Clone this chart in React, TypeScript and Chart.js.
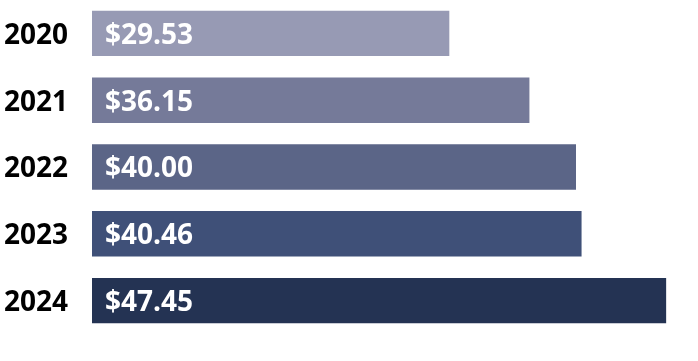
import React, { useEffect, useRef } from "react";
import { Chart, registerables } from "chart.js";

Chart.register(...registerables);

const years = ["2020", "2021", "2022", "2023", "2024"];
const values = [29.53, 36.15, 40.0, 40.46, 47.45];
const barColors = ["#979AB4", "#757A99", "#5B6587", "#3F5078", "#243353"];

const FONT = "'Open Sans', 'DejaVu Sans', sans-serif";

const labelsPlugin = {
  id: "labelsPlugin",
  afterDatasetsDraw(chart: any) {
    const ctx = chart.ctx;
    const meta = chart.getDatasetMeta(0);
    const yScale = chart.scales.y;
    const x0 = chart.scales.x.getPixelForValue(0);
    ctx.save();
    ctx.font = `bold 28px ${FONT}`;
    ctx.textBaseline = "middle";
    // category labels (years)
    ctx.fillStyle = "#000000";
    ctx.textAlign = "right";
    years.forEach((y, i) => {
      ctx.fillText(y, x0 - 24, yScale.getPixelForValue(i) + 2.5);
    });
    // value labels inside bars
    ctx.fillStyle = "#ffffff";
    ctx.textAlign = "left";
    meta.data.forEach((bar: any, i: number) => {
      ctx.fillText("$" + values[i].toFixed(2), x0 + 13, bar.y + 2.5);
    });
    ctx.restore();
  },
};

export default function App() {
  const ref = useRef<HTMLCanvasElement>(null);
  useEffect(() => {
    const chart = new Chart(ref.current!, {
      type: "bar",
      data: {
        labels: years,
        datasets: [
          {
            data: values,
            backgroundColor: barColors,
            borderWidth: 0,
            barPercentage: 0.68,
            categoryPercentage: 1,
          },
        ],
      },
      options: {
        indexAxis: "y",
        animation: false,
        responsive: false,
        events: [],
        layout: { padding: { top: 0, bottom: 27, left: 92, right: 1 } },
        plugins: { legend: { display: false }, tooltip: { enabled: false } },
        scales: {
          x: { display: false, min: 0, max: 50 },
          y: { display: false },
        },
      },
      plugins: [labelsPlugin],
    });
    return () => chart.destroy();
  }, []);
  return (
    <div style={{ position: "fixed", left: 0, top: 0, width: 698, height: 361, background: "#fff" }}>
      <canvas ref={ref} width={698} height={361} style={{ display: "block" }} />
    </div>
  );
}
